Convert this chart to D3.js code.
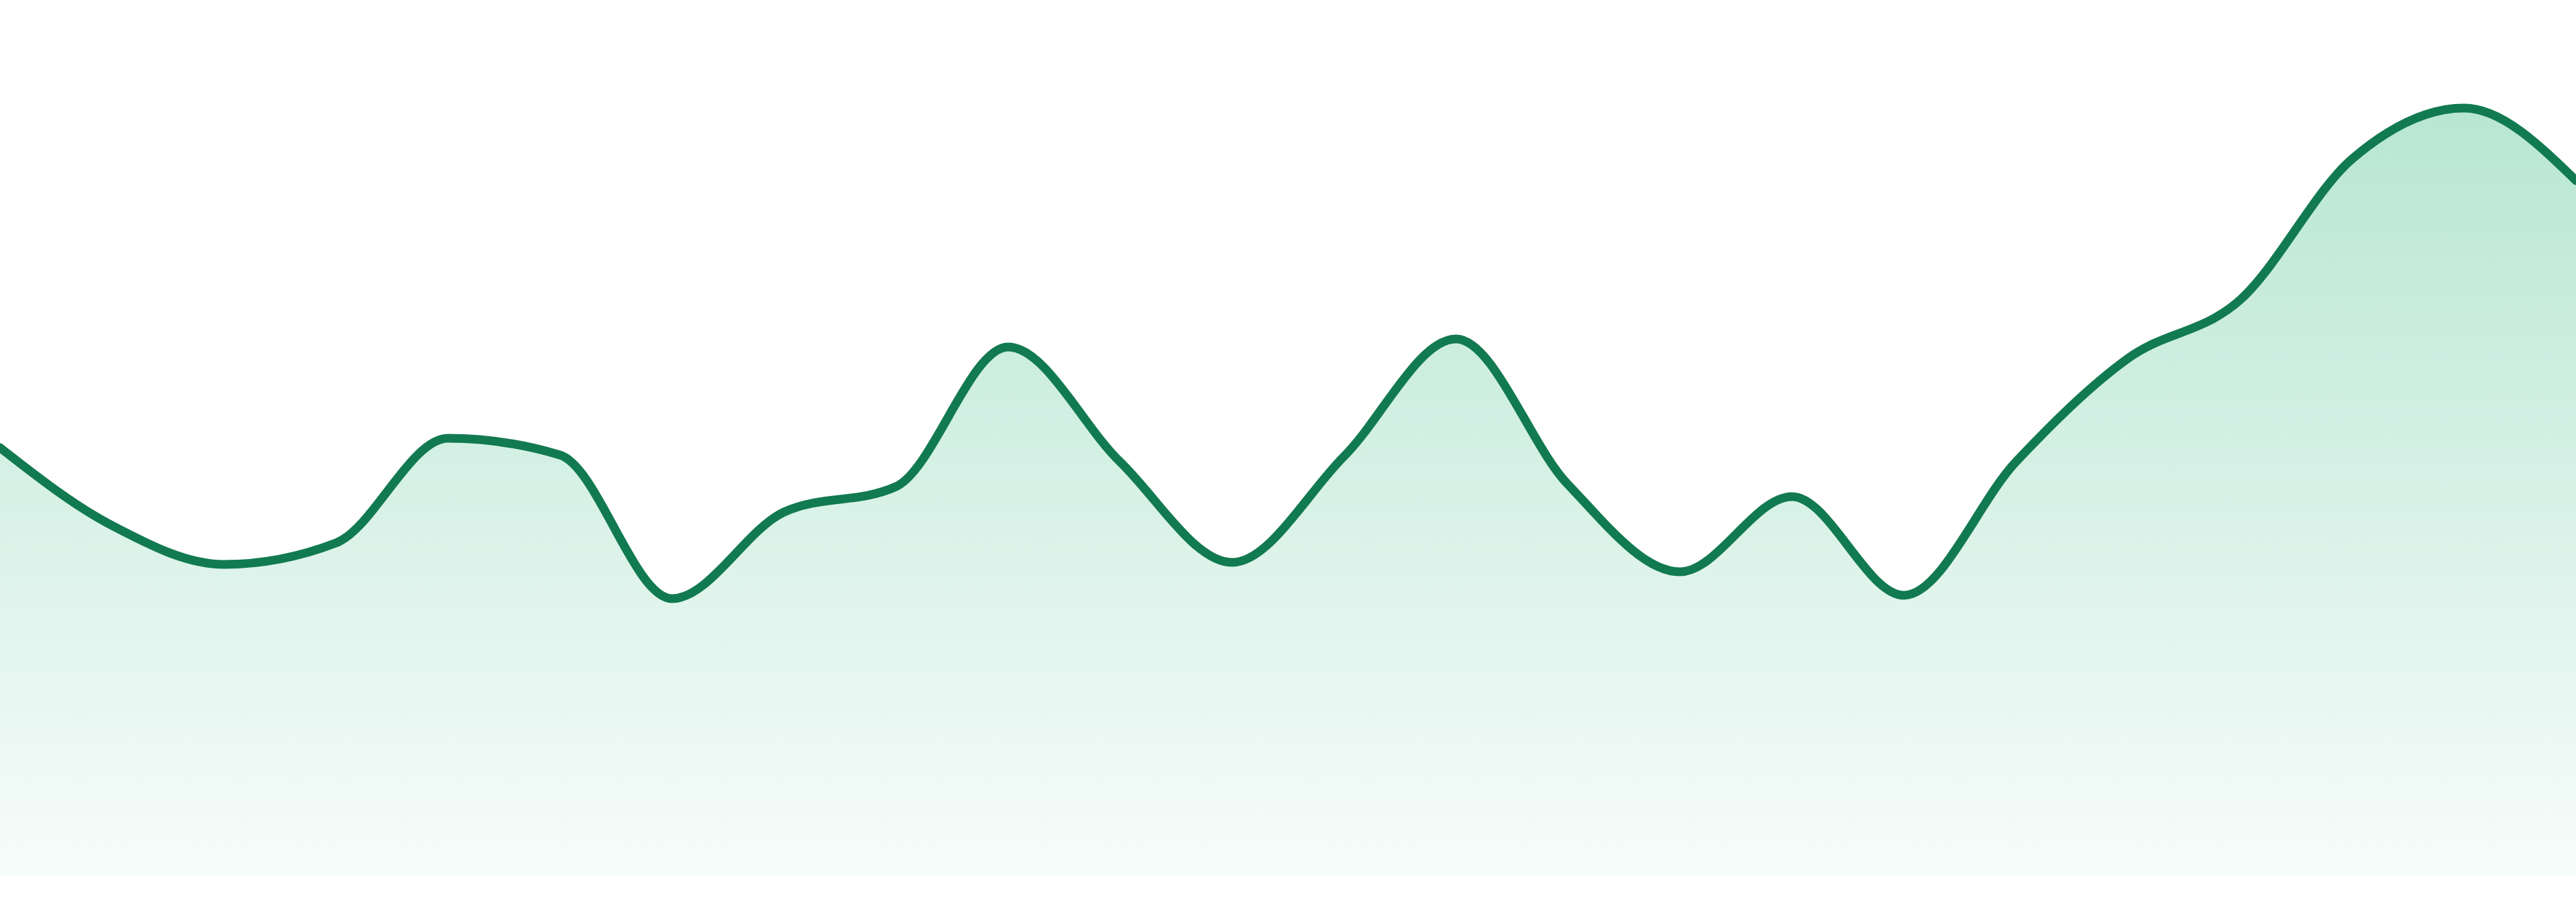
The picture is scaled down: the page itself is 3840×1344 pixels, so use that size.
<!DOCTYPE html>
<html>
<head>
<meta charset="utf-8">
<script src="https://cdn.jsdelivr.net/npm/d3@7"></script>
<style>
  html, body { margin: 0; padding: 0; background: #ffffff; }
  svg { display: block; }
</style>
</head>
<body>
<div id="canvas"></div>
<script>
// Dimension and color constants.
const WIDTH = 3840;
const HEIGHT = 1344;
const BASELINE = 1305;

const LINE_COLOR = "rgb(18, 122, 80)";
const FILL_COLOR = "rgb(18, 172, 112)";

// Series values, one per step.
const steps = ["1", "2", "3", "4", "5", "6", "7", "8", "9", "10", "11", "12",
               "13", "14", "15", "16", "17", "18", "19", "20", "21", "22", "23", "24"];
const values = [63.8, 52.2, 46.4, 49.6, 65.2, 62.7, 41.3, 54.2, 58.0, 78.8, 61.7, 46.7,
                62.5, 80.0, 58.3, 45.3, 56.5, 41.8, 61.7, 77.1, 85.8, 106.8, 114.4, 103.6];

const data = steps.map((s, i) => ({ step: s, value: values[i] }));

const svg = d3.select("#canvas")
                .append("svg")
                .attr("width", WIDTH)
                .attr("height", HEIGHT);

// The x and y scales.
const xScale = d3.scalePoint()
                    .domain(steps)
                    .range([0, WIDTH]);
const yScale = d3.scaleLinear()
                    .domain([0, BASELINE / 10])
                    .range([BASELINE, 0]);

// Vertical fade for the area under the line.
const gradient = svg.append("defs")
                    .append("linearGradient")
                    .attr("id", "areaFade")
                    .attr("x1", 0).attr("y1", 0)
                    .attr("x2", 0).attr("y2", 1);
gradient.append("stop")
        .attr("offset", "0%")
        .attr("stop-color", FILL_COLOR)
        .attr("stop-opacity", 0.30);
gradient.append("stop")
        .attr("offset", "100%")
        .attr("stop-color", FILL_COLOR)
        .attr("stop-opacity", 0.035);

// Generates the area and the line from the data.
const area = d3.area()
                .x(d => xScale(d.step))
                .y0(yScale(0))
                .y1(d => yScale(d.value))
                .curve(d3.curveMonotoneX);

const line = d3.line()
                .x(d => xScale(d.step))
                .y(d => yScale(d.value))
                .curve(d3.curveMonotoneX);

// Draws the area.
svg.append("path")
    .datum(data)
    .attr("d", area)
    .attr("fill", "url(#areaFade)");

// Draws the line.
svg.append("path")
    .datum(data)
    .attr("d", line)
    .attr("fill", "none")
    .attr("stroke", LINE_COLOR)
    .attr("stroke-width", 13)
    .attr("stroke-linejoin", "round")
    .attr("stroke-linecap", "round");
</script>
</body>
</html>
